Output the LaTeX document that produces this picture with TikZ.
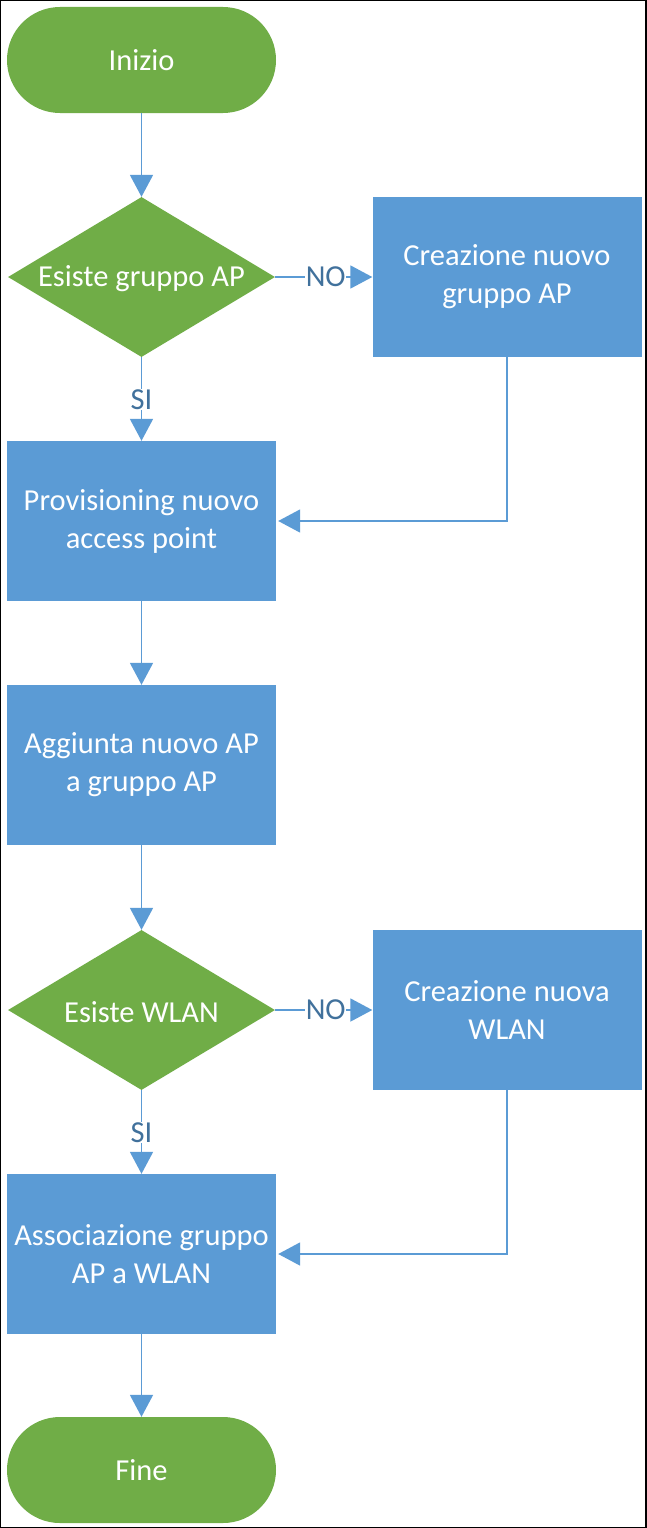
\documentclass[tikz,border=0pt]{standalone}
\usepackage{fontspec}
\setmainfont{Carlito}
\usetikzlibrary{shapes.geometric,arrows.meta}
\definecolor{ogreen}{HTML}{70AD47}
\definecolor{oblue}{HTML}{5B9BD5}
\definecolor{lblue}{HTML}{41719C}
\tikzset{
  every node/.style={font=\fontsize{30.5}{38}\selectfont},
  term/.style={draw=none,fill=ogreen,rounded corners=53pt,minimum width=269pt,minimum height=106pt,inner sep=0pt,text=white,align=center},
  dia/.style={diamond,draw=none,fill=ogreen,minimum width=267pt,minimum height=160pt,inner sep=0pt,aspect=1.67},
  diatxt/.style={text=white,inner sep=0pt},
  procbox/.style={rectangle,draw=none,fill=oblue,minimum width=269pt,minimum height=160pt,inner sep=0pt,text=white,align=center},
  conn/.style={draw=oblue,line width=1.8pt,-{Triangle[width=23pt,length=22pt]}},
  lbl/.style={fill=white,text=lblue,inner sep=0.5pt}
}
\begin{document}
\begin{tikzpicture}[x=1pt,y=-1pt]
\useasboundingbox (0,0) rectangle (646,1528);
\fill[white] (0,0) rectangle (646,1528);
\draw[black,line width=2pt] (0,0) rectangle (646,1528);

\node[term] (start) at (141.5,60) {Inizio};
\node[dia] (d1) at (141.5,277) {};
\node[diatxt] (d1t) at (141.5,279) {Esiste gruppo AP};
\node[procbox] (c1) at (507,277) {Creazione nuovo\\gruppo AP};
\node[procbox] (p1) at (141.5,521) {Provisioning nuovo\\access point};
\node[procbox] (p2) at (141.5,765) {Aggiunta nuovo AP\\a gruppo AP};
\node[dia] (d2) at (141.5,1010) {};
\node[diatxt] (d2t) at (141.5,1012) {Esiste WLAN};
\node[procbox] (c2) at (507,1010) {Creazione nuova\\WLAN};
\node[procbox] (p3) at (141.5,1254) {Associazione gruppo\\AP a WLAN};
\node[term] (stop) at (141.5,1470) {Fine};

\draw[conn] (start.south) -- (d1.north);
\draw[conn] (d1.east) -- node[lbl,pos=0.52] (no1) {NO} (c1.west);
\draw[conn] (d1.south) -- node[lbl,pos=0.51] (si1) {SI} (p1.north);
\draw[conn] (c1.south) |- ([xshift=2pt]p1.east);
\draw[conn] (p1.south) -- (p2.north);
\draw[conn] (p2.south) -- (d2.north);
\draw[conn] (d2.east) -- node[lbl,pos=0.52] (no2) {NO} (c2.west);
\draw[conn] (d2.south) -- node[lbl,pos=0.51] (si2) {SI} (p3.north);
\draw[conn] (c2.south) |- ([xshift=2pt]p3.east);
\draw[conn] (p3.south) -- (stop.north);
\end{tikzpicture}
\end{document}
